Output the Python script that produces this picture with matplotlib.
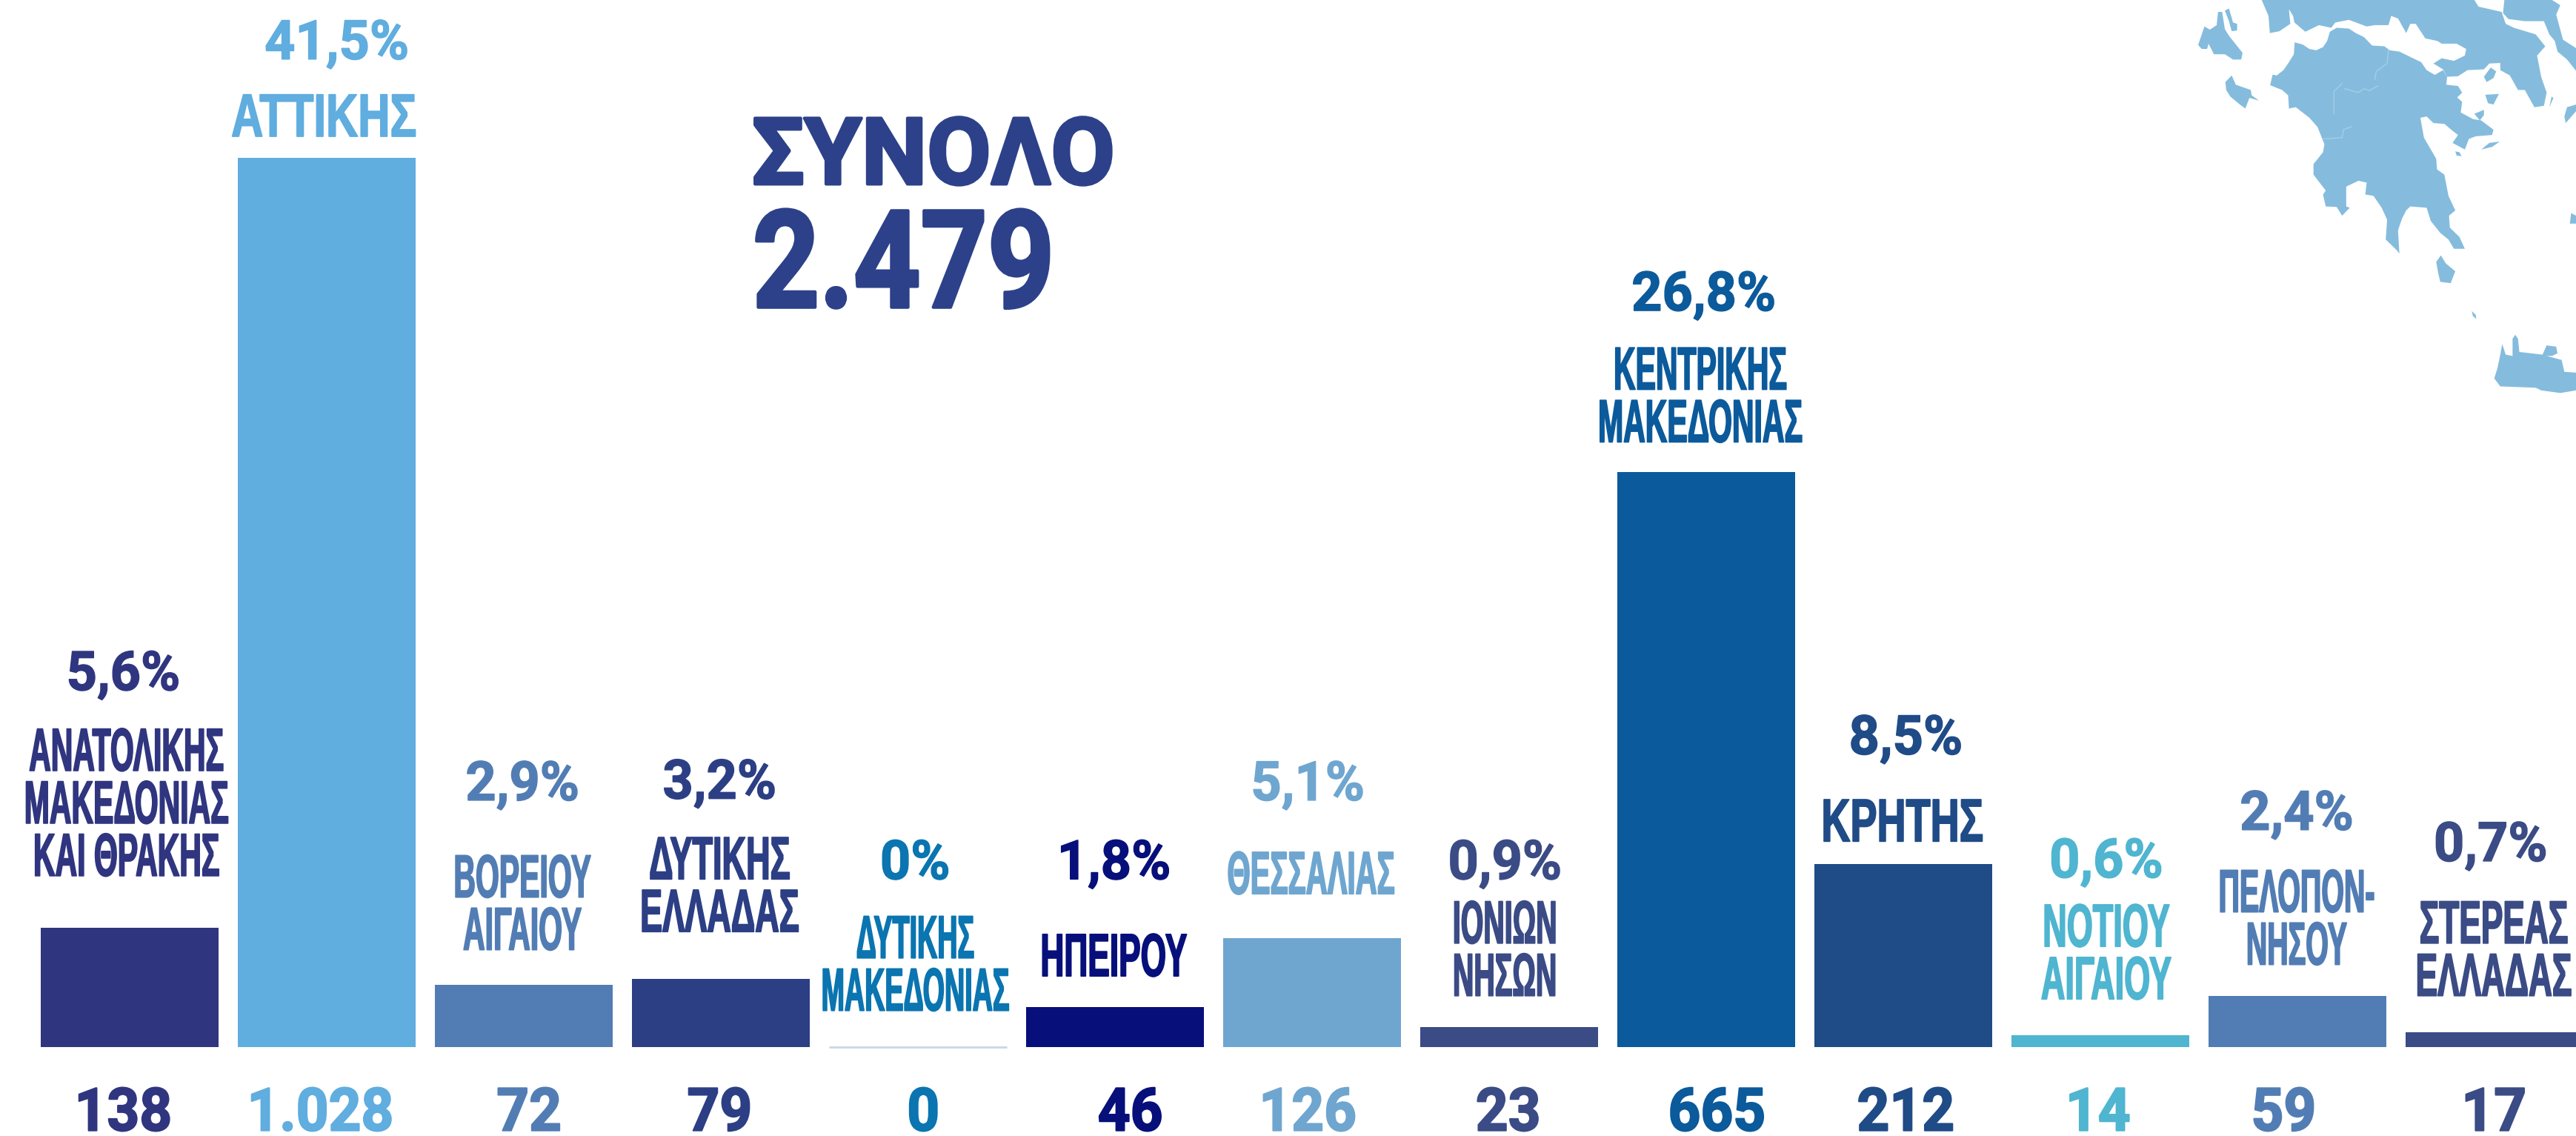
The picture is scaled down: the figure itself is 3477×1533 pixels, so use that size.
"""Regional case counts in Greece, bars with region names and a corner map."""

import matplotlib

matplotlib.use("Agg")
import matplotlib.pyplot as plt
from matplotlib.patches import Polygon
from matplotlib.patheffects import AbstractPathEffect
from matplotlib.transforms import Affine2D

WIDTH = 3477
HEIGHT = 1533
SHRINK = 3477 / 1568

counts = [138, 1028, 72, 79, 0, 46, 126, 23, 665, 212, 14, 59, 17]
count_labels = ["138", "1.028", "72", "79", "0", "46", "126", "23", "665", "212", "14", "59", "17"]
shares = ["5,6%", "41,5%", "2,9%", "3,2%", "0%", "1,8%", "5,1%", "0,9%", "26,8%", "8,5%", "0,6%", "2,4%", "0,7%"]
regions = [
    ["ΑΝΑΤΟΛΙΚΗΣ", "ΜΑΚΕΔΟΝΙΑΣ", "ΚΑΙ ΘΡΑΚΗΣ"],
    ["ΑΤΤΙΚΗΣ"],
    ["ΒΟΡΕΙΟΥ", "ΑΙΓΑΙΟΥ"],
    ["ΔΥΤΙΚΗΣ", "ΕΛΛΑΔΑΣ"],
    ["ΔΥΤΙΚΗΣ", "ΜΑΚΕΔΟΝΙΑΣ"],
    ["ΗΠΕΙΡΟΥ"],
    ["ΘΕΣΣΑΛΙΑΣ"],
    ["ΙΟΝΙΩΝ", "ΝΗΣΩΝ"],
    ["ΚΕΝΤΡΙΚΗΣ", "ΜΑΚΕΔΟΝΙΑΣ"],
    ["ΚΡΗΤΗΣ"],
    ["ΝΟΤΙΟΥ", "ΑΙΓΑΙΟΥ"],
    ["ΠΕΛΟΠΟΝ-", "ΝΗΣΟΥ"],
    ["ΣΤΕΡΕΑΣ", "ΕΛΛΑΔΑΣ"],
]
colors = [
    "#303580", "#60ADDF", "#527DB4", "#2C3F85", "#0A75B0", "#060F7A", "#6FA6D0",
    "#3A4B85", "#0B5A9B", "#1F4B87", "#4FB5D0", "#527DB4", "#3A4B85",
]

# label placement at 1568 px wide
share_x = [75, 205, 318, 438, 557, 678, 796, 916, 1037, 1160, 1282, 1398, 1516]
share_y = [408, 24, 475, 474, 523, 523, 475, 523, 177, 447, 522, 493, 512]
name_x = [77, 197, 318, 438, 557, 678, 798, 916, 1035, 1158, 1282, 1398, 1518]
name_y = [456, 70, 533, 522, 570, 581, 531, 561, 224, 499, 563, 542, 561]
name_squeeze = [0.50, 0.73, 0.50, 0.55, 0.46, 0.54, 0.49, 0.48, 0.50, 0.66, 0.55, 0.48, 0.54]
count_x = [75, 195, 322, 438, 562, 688, 796, 918, 1045, 1160, 1277, 1390, 1518]

peloponnese = [
    (446, 322), (455, 282), (470, 285), (495, 265), (515, 235), (533, 205), (536, 160), (565, 168),
    (590, 185), (615, 190), (640, 178), (655, 155), (665, 120), (690, 105), (735, 108), (760, 125),
    (790, 140), (820, 172), (865, 175), (885, 190), (920, 195), (960, 215), (1000, 235), (1020, 265),
    (1050, 283), (1080, 265), (1095, 290), (1092, 320), (1135, 325), (1150, 350), (1132, 368),
    (1150, 385), (1145, 425), (1190, 450), (1220, 455), (1265, 490), (1260, 510), (1200, 515),
    (1175, 525), (1160, 565), (1115, 540), (1135, 510), (1110, 490), (1085, 468), (1045, 465),
    (1020, 440), (997, 445), (1010, 520), (1055, 600), (1058, 640), (1085, 660), (1100, 740),
    (1125, 795), (1102, 815), (1105, 860), (1140, 895), (1160, 940), (1120, 940), (1100, 905),
    (1070, 880), (1035, 835), (1020, 785), (960, 780), (945, 795), (930, 825), (915, 870), (920, 958),
    (910, 945), (870, 905), (875, 830), (855, 785), (825, 740), (795, 735), (800, 690), (770, 683),
    (725, 705), (725, 780), (738, 785), (710, 815), (690, 782), (650, 780), (640, 735), (650, 720),
    (605, 660), (605, 620), (640, 575), (645, 545), (620, 480), (590, 445), (540, 405), (515, 410),
    (512, 360), (490, 340),
]
mainland = [
    (415, 0), (440, 60), (445, 125), (480, 118), (520, 90), (515, 35), (530, 60), (535, 85), (575, 120),
    (625, 95), (670, 105), (685, 85), (735, 75), (800, 100), (830, 95), (880, 95), (890, 60), (915, 70),
    (945, 125), (960, 90), (980, 90), (1015, 145), (1060, 155), (1075, 165), (1130, 165), (1165, 185),
    (1160, 210), (1120, 230), (1075, 220), (1045, 240), (1080, 262), (1095, 290), (1135, 288),
    (1170, 265), (1230, 262), (1250, 240), (1290, 238), (1290, 265), (1325, 285), (1355, 340),
    (1380, 340), (1415, 405), (1450, 400), (1460, 350), (1440, 290), (1425, 210), (1455, 175),
    (1420, 130), (1340, 105), (1310, 90), (1295, 45), (1210, 25), (1195, 0),
]
evia = [
    (1305, 0), (1480, 0), (1510, 20), (1495, 55), (1520, 150), (1568, 182), (1568, 268), (1535, 225),
    (1500, 195), (1490, 155), (1470, 130), (1450, 80), (1380, 80), (1320, 72), (1300, 50),
]
crete = [
    (1268, 1430), (1280, 1390), (1290, 1340), (1297, 1300), (1310, 1340), (1335, 1345), (1335, 1280),
    (1345, 1265), (1355, 1280), (1360, 1330), (1445, 1340), (1460, 1305), (1495, 1310), (1500, 1335),
    (1480, 1345), (1460, 1345), (1515, 1360), (1525, 1405), (1568, 1408), (1568, 1475), (1510, 1485),
    (1440, 1475), (1420, 1465), (1290, 1460),
]
islands = [
    [(182, 170), (205, 100), (225, 112), (250, 95), (255, 45), (270, 45), (280, 110), (295, 135), (345, 200),
     (340, 225), (310, 225), (280, 205), (240, 205), (220, 165), (215, 185), (195, 185)],
    [(280, 40), (295, 32), (310, 85), (325, 90), (325, 115), (305, 118), (295, 80)],
    [(282, 310), (305, 285), (320, 320), (375, 340), (378, 360), (405, 380), (370, 370), (355, 410),
     (335, 395), (300, 365), (285, 340)],
    [(1055, 990), (1072, 965), (1090, 995), (1125, 1025), (1108, 1070), (1070, 1065), (1062, 1030)],
    [(1235, 358), (1285, 355), (1265, 395), (1245, 390)],
    [(1230, 290), (1255, 255), (1275, 270), (1265, 295), (1240, 310)],
    [(1220, 565), (1250, 540), (1288, 535), (1260, 555)],
    [(1125, 572), (1140, 575), (1148, 590), (1130, 588)],
    [(1195, 430), (1230, 415), (1230, 435), (1215, 455)],
    [(1525, 440), (1535, 405), (1568, 395), (1568, 420), (1530, 465)],
    [(1185, 1175), (1200, 1190), (1202, 1205), (1190, 1195)],
    [(1545, 845), (1550, 805), (1568, 815), (1568, 845)],
    [(1470, 405), (1478, 365), (1485, 370)],
]
borders = [
    [(880, 190), (875, 240), (835, 270), (830, 300)],
    [(710, 315), (680, 345), (680, 430)],
    [(720, 335), (770, 350), (790, 335), (810, 342), (840, 325)],
    [(745, 478), (715, 490), (710, 520), (640, 525)],
]


class Stretch(AbstractPathEffect):
    """Make a text taller around its baseline and embolden it, the fonts have no such cut."""

    def __init__(self, tall, baseline, stroke):
        super().__init__()
        self.tall = tall
        self.baseline = baseline
        self.stroke = stroke

    def draw_path(self, renderer, gc, tpath, affine, rgbFace=None):
        stretch = Affine2D().translate(0, -self.baseline).scale(1, self.tall).translate(0, self.baseline)
        stroked = renderer.new_gc()
        stroked.copy_properties(gc)
        stroked.set_foreground(rgbFace)
        stroked.set_linewidth(self.stroke)
        renderer.draw_path(stroked, tpath, affine + stretch, rgbFace)
        stroked.restore()


def map_points(points):
    return [(2900 + x / 2.717, y / 2.8) for x, y in points]


def put_text(fig, pixels, text, x, y, size, color, family, narrow=1.0, stroke=0.0):
    # the font size sets the width, the effect brings the height back
    fig.text(
        x * SHRINK, y * SHRINK, text, transform=pixels, fontsize=size * narrow, color=color,
        family=family, fontweight="bold", ha="center", va="baseline",
        path_effects=[Stretch(1 / narrow, HEIGHT - y * SHRINK, stroke)],
    )


fig = plt.figure(figsize=(WIDTH / 100, HEIGHT / 100), dpi=100)
pixels = Affine2D().scale(1, -1).translate(0, HEIGHT)

# axes fill the figure, scales give 266 px per bar and the baseline at y=1413
ax = fig.add_axes([0, 0, 1, 1])
ax.set_xlim(-175 / 266, (WIDTH - 175) / 266)
ax.set_ylim(-(HEIGHT - 1413) / 1.167, 1413 / 1.167)
ax.axis("off")
ax.bar(range(len(counts)), counts, width=240 / 266, color=colors)

# the empty region still shows a hairline along the baseline
empty = counts.index(0)
ax.hlines(0, empty - 120 / 266, empty + 120 / 266, color="#C5D8E6", lw=2)

for shape in [mainland, evia, peloponnese, crete] + islands:
    fig.add_artist(Polygon(map_points(shape), closed=True, color="#85BCDD", lw=0, transform=pixels))
for line in borders:
    xs, ys = zip(*map_points(line))
    fig.add_artist(plt.Line2D(xs, ys, color="#A5CDE6", lw=1, transform=pixels))

for i, color in enumerate(colors):
    put_text(fig, pixels, shares[i], share_x[i], share_y[i] + 12, 53, color, "Roboto", 0.98, 1.0)
    for j, line in enumerate(regions[i]):
        put_text(fig, pixels, line, name_x[i], name_y[i] + 13 + j * 32, 59, color,
                 "Liberation Sans", name_squeeze[i], 1.2)
    put_text(fig, pixels, count_labels[i], count_x[i], 688, 58, color, "Roboto", 0.95, 1.5)

put_text(fig, pixels, "ΣΥΝΟΛΟ", 568, 112, 90, "#2C4189", "Roboto", 1.0, 3.0)
put_text(fig, pixels, "2.479", 550, 187, 132, "#2C4189", "Roboto", 0.86, 3.0)

fig.savefig("out.png", dpi=100)
